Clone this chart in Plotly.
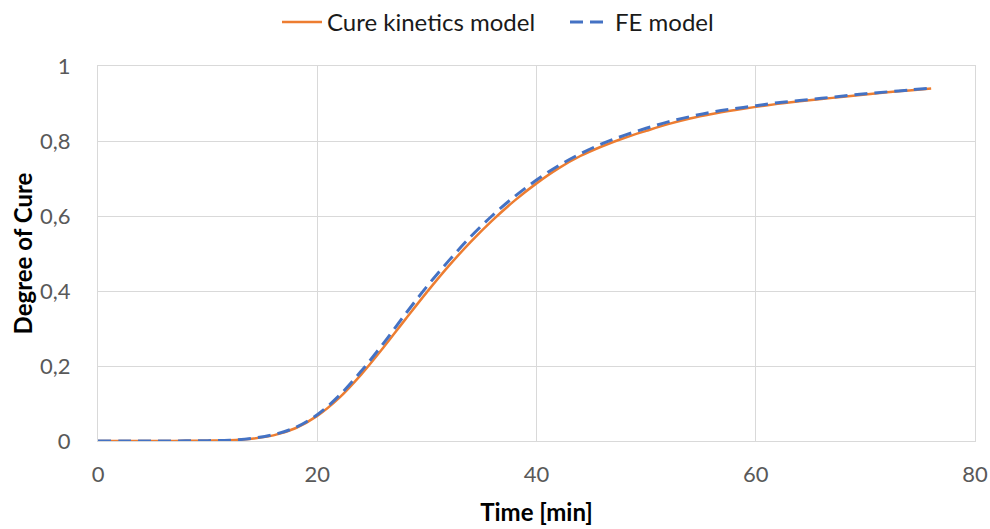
import plotly.graph_objects as go

# Time axis [min]
time_min = [0, 2, 4, 6, 8, 10, 12, 14, 16, 18, 20, 22, 24, 26, 28, 30, 32, 34, 36, 38,
            40, 42, 44, 46, 48, 50, 52, 54, 56, 58, 60, 62, 64, 66, 68, 70, 72, 74, 76]

# Degree of cure from the cure kinetics model
cure_kinetics = [0, 0, 0, 0, 0.0005, 0.001, 0.002, 0.006, 0.015, 0.034, 0.067, 0.115,
                 0.177, 0.248, 0.323, 0.397, 0.467, 0.531, 0.589, 0.641, 0.687, 0.727,
                 0.76, 0.786, 0.808, 0.827, 0.845, 0.86, 0.872, 0.882, 0.891, 0.899,
                 0.906, 0.912, 0.918, 0.924, 0.93, 0.935, 0.94]

# Degree of cure from the finite element model
fe_model = [0, 0, 0, 0, 0.0005, 0.001, 0.002, 0.007, 0.017, 0.036, 0.07, 0.121,
            0.186, 0.259, 0.337, 0.412, 0.481, 0.545, 0.602, 0.652, 0.696, 0.734,
            0.766, 0.793, 0.815, 0.834, 0.851, 0.865, 0.877, 0.886, 0.894, 0.902,
            0.908, 0.914, 0.92, 0.926, 0.931, 0.936, 0.941]

x_ticks = [0, 20, 40, 60, 80]
y_ticks = [0, 0.2, 0.4, 0.6, 0.8, 1]

FONT = "Lato, Carlito, 'Liberation Sans', sans-serif"
GRID = "#D9D9D9"
TICK_COLOR = "#595959"

fig = go.Figure()
fig.add_trace(go.Scatter(
    x=time_min, y=cure_kinetics, mode="lines", name="Cure kinetics model",
    line=dict(color="#ED7D31", width=2.5, shape="spline", smoothing=1.0),
))
fig.add_trace(go.Scatter(
    x=time_min, y=fe_model, mode="lines", name="FE model",
    line=dict(color="#4472C4", width=3, dash="13px,7px", shape="spline", smoothing=1.0),
))

fig.update_layout(
    width=990, height=529,
    margin=dict(l=98, r=15, t=66, b=88, autoexpand=False),
    paper_bgcolor="white", plot_bgcolor="white",
    separators=",.",
    font=dict(family=FONT, size=22, color=TICK_COLOR),
    showlegend=True,
    legend=dict(
        orientation="h", xref="container", yref="container",
        x=277 / 990, xanchor="left", y=1.0, yanchor="top",
        font=dict(family=FONT, size=24, color="#1a1a1a"),
        itemwidth=40, entrywidth=233, traceorder="normal",
        bgcolor="rgba(0,0,0,0)",
    ),
)

fig.update_xaxes(
    range=[0, 80], tickvals=x_ticks, automargin=False,
    showgrid=True, gridcolor=GRID, gridwidth=1,
    showline=True, linecolor=GRID, linewidth=1, mirror=True,
    zeroline=False, ticks="", ticklabelstandoff=14,
    tickfont=dict(family=FONT, size=22, color=TICK_COLOR),
    title=dict(text="<b>Time [min]</b>", standoff=17,
               font=dict(family=FONT, size=24, color="#000000")),
)
fig.update_yaxes(
    range=[0, 1], tickvals=y_ticks, automargin=False,
    showgrid=True, gridcolor=GRID, gridwidth=1,
    showline=True, linecolor=GRID, linewidth=1, mirror=True,
    zeroline=False, ticks="", ticklabelstandoff=22,
    tickfont=dict(family=FONT, size=22, color=TICK_COLOR),
    title=dict(text="<b>Degree of Cure</b>", standoff=0,
               font=dict(family=FONT, size=24, color="#000000")),
)

fig.write_html("out.html")
